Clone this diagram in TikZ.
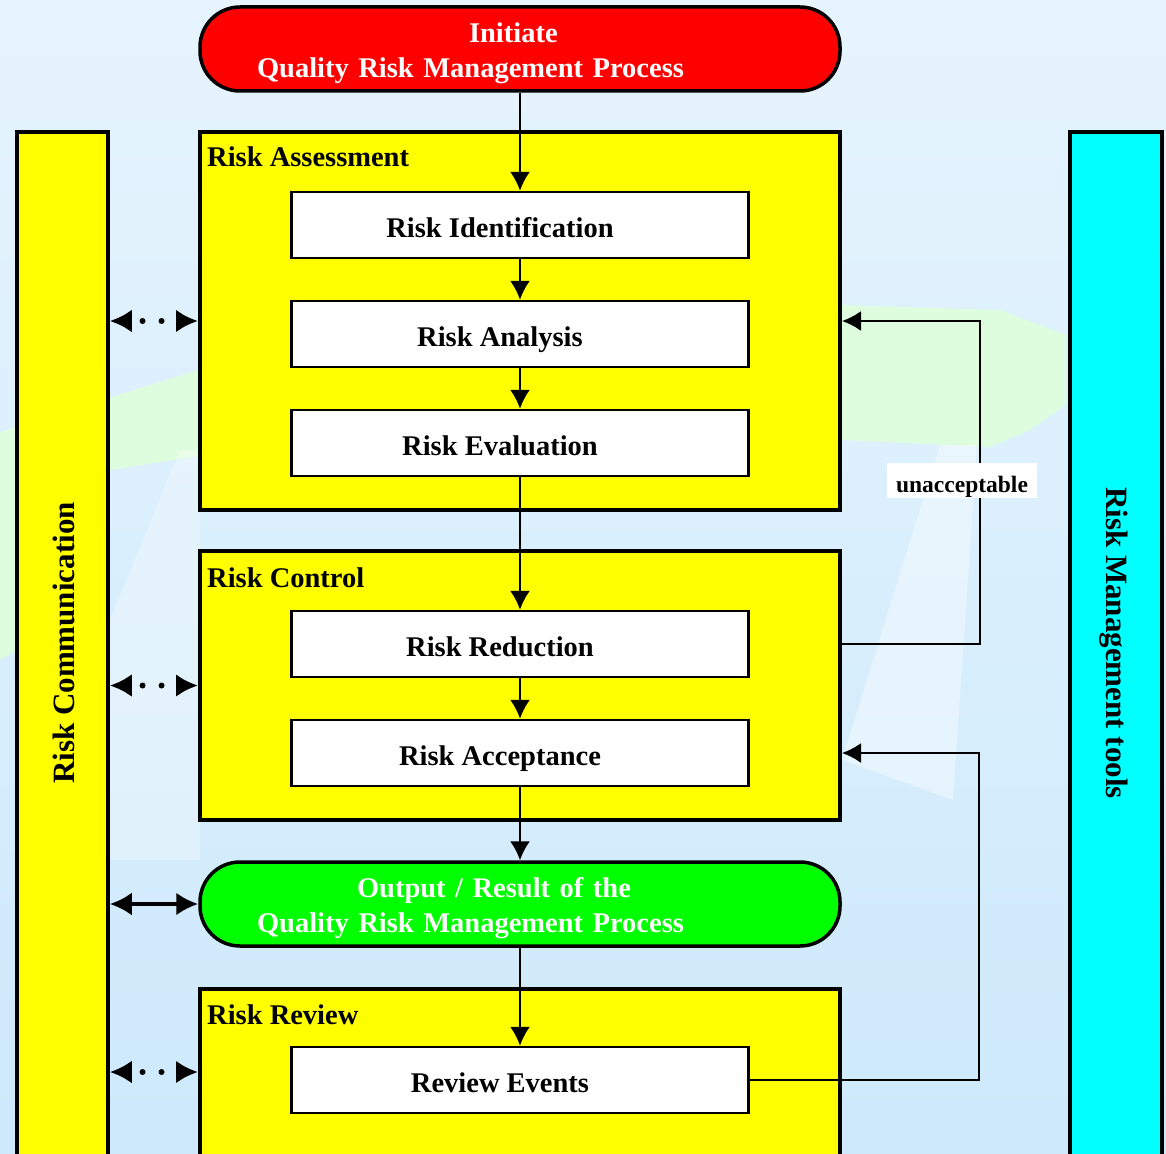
\documentclass[tikz,border=0pt]{standalone}
\usepackage{fontspec}
\setmainfont{Liberation Serif}
\usetikzlibrary{arrows.meta,positioning}
\definecolor{qrmred}{RGB}{255,0,0}
\definecolor{qrmgreen}{RGB}{0,255,0}
\definecolor{qrmyellow}{RGB}{255,255,0}
\definecolor{qrmcyan}{RGB}{0,255,255}
\definecolor{bgtop}{RGB}{230,244,254}
\definecolor{bgbottom}{RGB}{205,233,251}
\definecolor{bgband}{RGB}{222,253,222}
\newcommand\qrmfont{\fontsize{28.5}{35.5}\selectfont\bfseries}
\tikzset{
 terminal/.style={draw,line width=3.5pt,rounded corners=40pt,minimum width=640pt,
             minimum height=84pt,text=white,text width=526pt,align=left,
             font=\qrmfont,inner sep=0pt,execute at begin node=\rule{0pt}{28pt}},
 stage/.style={draw,line width=4pt,fill=qrmyellow,minimum width=640pt,inner sep=0pt},
 stagelabel/.style={anchor=base west,inner sep=0pt,font=\qrmfont},
 stepbox/.style={draw,line width=2.5pt,fill=white,minimum width=457pt,
             minimum height=66pt,font=\qrmfont,text height=31pt,text depth=6pt,
             execute at end node=\hspace*{40pt}},
 column/.style={draw,line width=3.5pt,minimum height=1043pt,inner sep=0pt},
 collabel/.style={font=\fontsize{31}{34}\selectfont\bfseries},
 flow/.style={-{Latex[length=19pt,width=20pt]},line width=2pt},
 commdots/.style={{Latex[length=22pt,width=23pt]}-{Latex[length=22pt,width=23pt]},
             line width=6pt,line cap=round,dash pattern=on 0pt off 19pt,dash phase=6pt},
 commboth/.style={{Latex[length=22pt,width=23pt]}-{Latex[length=22pt,width=23pt]},
             line width=4pt}
}
\begin{document}
\begin{tikzpicture}[x=1pt,y=-1pt,node distance=40.5pt]
\clip (0,0) rectangle (1166,1153);
% background
\shade[top color=bgtop,bottom color=bgbottom] (0,0) rectangle (1166,1153);
\fill[bgband] (0,432) -- (205,368) -- (840,305) -- (1000,310) -- (1066,335)
  -- (1066,405) -- (1030,430) -- (990,447) -- (840,440) -- (205,455)
  -- (110,470) -- (17,650) -- (0,660) -- cycle;
\fill[white,opacity=.4] (940,445) -- (977,445) -- (953,800) -- (842,760) -- cycle;
\fill[white,opacity=.3] (180,450) -- (200,450) -- (200,860) -- (110,860) -- (110,620) -- cycle;

% side columns
\node[column,fill=qrmyellow,minimum width=91pt] (comm) at (62.5,653.5) {};
\node[collabel,rotate=90] (commlabel) at (64,643) {Risk Communication};
\node[column,fill=qrmcyan,minimum width=92pt] (tools) at (1116,653.5) {};
\node[collabel,rotate=-90] (toolslabel) at (1114,643) {Risk Management tools};

% start
\node[terminal,fill=qrmred] (init) at (520,49)
  {\hspace*{212pt}Initiate\\Quality Risk Management Process};

% risk assessment
\node[stage,minimum height=378pt] (assess) at (520,321) {};
\node[stagelabel] (assesslbl) at (207,166) {Risk Assessment};
\node[stepbox] (ident) at (520,225) {Risk Identification};
\node[stepbox,below=of ident] (analysis) {Risk Analysis};
\node[stepbox,below=of analysis] (evaluation) {Risk Evaluation};

% risk control
\node[stage,minimum height=269pt] (control) at (520,685.5) {};
\node[stagelabel] (controllbl) at (207,587) {Risk Control};
\node[stepbox] (reduction) at (520,644) {Risk Reduction};
\node[stepbox,below=of reduction] (acceptance) {Risk Acceptance};

% output
\node[terminal,fill=qrmgreen] (output) at (520,904)
  {\hspace*{100pt}Output / Result of the\\Quality Risk Management Process};

% risk review
\node[stage,minimum height=190pt] (review) at (520,1084) {};
\node[stagelabel] (reviewlbl) at (207,1024) {Risk Review};
\node[stepbox] (events) at (520,1080) {Review Events};

% main flow
\draw[flow] (init) -- (ident);
\draw[flow] (ident) -- (analysis);
\draw[flow] (analysis) -- (evaluation);
\draw[flow] (evaluation) -- (reduction);
\draw[flow] (reduction) -- (acceptance);
\draw[flow] (acceptance) -- (output);
\draw[flow] (output) -- (events);

% feedback loops
\draw[flow] (control.east |- reduction) -- ++(138,0) |- (assess.east);
\node[fill=white,minimum width=150pt,minimum height=35pt,inner sep=0pt,
      text height=29pt,text depth=6pt,
      font=\fontsize{23.5}{26}\selectfont\bfseries] (unacc) at (962,480.5) {unacceptable};
\draw[flow] (events.east) -- ++(229,0) |- (acceptance.east -| control.east);

% communication
\draw[commdots] (comm.east |- assess) -- (assess.west);
\draw[commdots] (comm.east |- control) -- (control.west);
\draw[commboth] (comm.east |- output) -- (output.west);
\draw[commdots] (comm.east |- 0,1072) -- (review.west |- 0,1072);
\end{tikzpicture}
\end{document}
